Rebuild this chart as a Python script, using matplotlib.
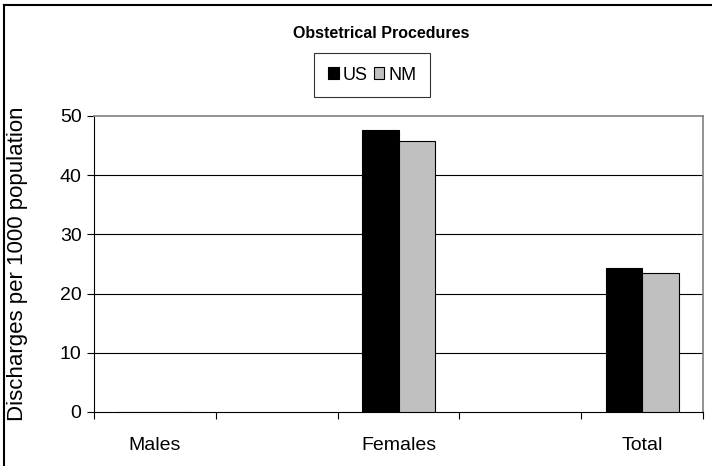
import matplotlib
matplotlib.use("Agg")
import matplotlib.pyplot as plt
from matplotlib.patches import Rectangle
from matplotlib.lines import Line2D
import numpy as np

categories = ["Males", "", "Females", "", "Total"]
us_values = [0, np.nan, 47.6, np.nan, 24.3]
nm_values = [0, np.nan, 45.8, np.nan, 23.4]
series_names = ["US", "NM"]
y_ticks = [0, 10, 20, 30, 40, 50]
title = "Obstetrical Procedures"
y_label = "Discharges per 1000 population"

plt.rcParams['font.family'] = ['Liberation Sans', 'DejaVu Sans']

W, H = 712, 466
fig = plt.figure(figsize=(W / 100, H / 100), dpi=100)

def fx(px):
    return px / W

def fy(py):
    return 1 - py / H

ax = fig.add_axes([fx(94), fy(412), fx(703) - fx(94), fy(116) - fy(412)])

x = np.arange(len(categories))
bw = 0.3
ax.bar(x - bw / 2, us_values, width=bw, color="black", edgecolor="black", linewidth=0.8, zorder=3, label=series_names[0])
ax.bar(x + bw / 2, nm_values, width=bw, color="#C0C0C0", edgecolor="black", linewidth=0.8, zorder=3, label=series_names[1])

ax.set_xlim(-0.5, len(categories) - 0.5)
ax.set_ylim(0, 50)
ax.set_yticks(y_ticks)
ax.set_yticklabels([str(t) for t in y_ticks], fontsize=14)
ax.tick_params(axis='y', direction='out', length=5, width=0.8, pad=4, colors='black')

ax.set_xticks(np.arange(-0.5, len(categories)), minor=False)
ax.set_xticklabels([])
ax.tick_params(axis='x', which='major', direction='out', length=5, width=0.8)
ax.set_xticks(x, minor=True)
ax.set_xticklabels(categories, minor=True, fontsize=14)
ax.tick_params(axis='x', which='minor', length=0, pad=18)

for t in y_ticks[1:-1]:
    ax.axhline(t, color='black', linewidth=0.8, zorder=1)

for s in ['top', 'right']:
    ax.spines[s].set_color('#808080')
    ax.spines[s].set_linewidth(1.2)
for s in ['left', 'bottom']:
    ax.spines[s].set_color('black')
    ax.spines[s].set_linewidth(0.8)

fig.text(fx(18), fy(264), y_label, rotation=90, ha='center', va='center', fontsize=16)

fig.text(fx(381), fy(34), title, ha='center', va='center', fontsize=11.5, fontweight='bold')

handles = [Rectangle((0, 0), 1, 1, facecolor='black', edgecolor='black', linewidth=0.8),
           Rectangle((0, 0), 1, 1, facecolor='#C0C0C0', edgecolor='black', linewidth=0.8)]
leg = fig.legend(handles, series_names, loc='center', bbox_to_anchor=(fx(372), fy(75)),
                 ncol=2, fontsize=13, frameon=True, fancybox=False, edgecolor='black',
                 handlelength=0.6, handleheight=0.6, handletextpad=0.2, columnspacing=0.35,
                 borderpad=0.75, borderaxespad=0)
leg.get_frame().set_linewidth(0.8)

# outer border (top and left visible)
fig.add_artist(Line2D([fx(4), fx(4)], [fy(5), 0], color='black', linewidth=1.5))
fig.add_artist(Line2D([fx(4), 1], [fy(5), fy(5)], color='black', linewidth=1.5))

fig.savefig("out.png", dpi=100)
